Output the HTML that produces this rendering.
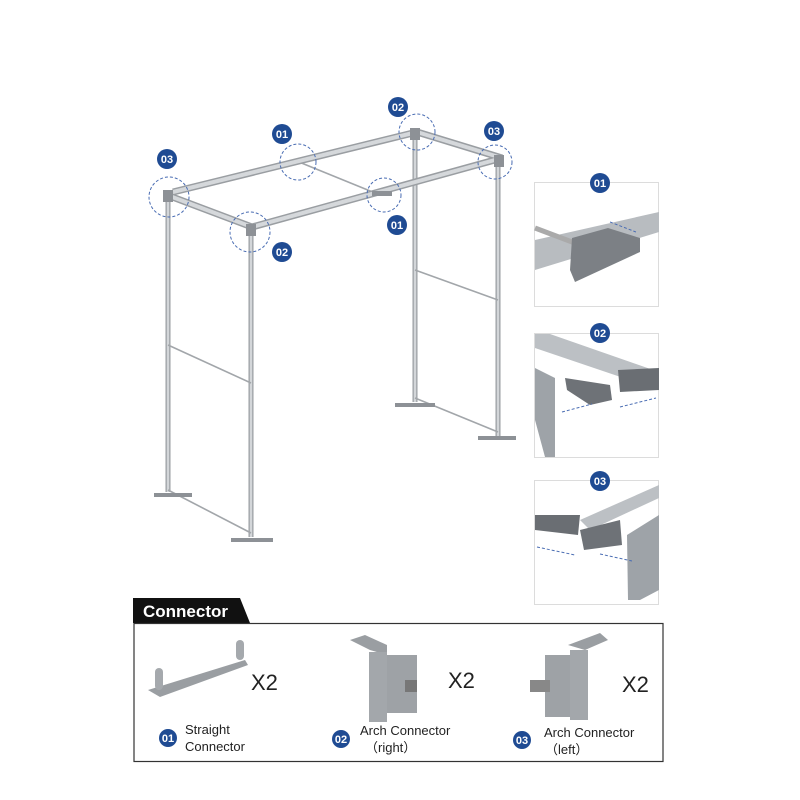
<!DOCTYPE html>
<html><head><meta charset="utf-8"><style>
html,body{margin:0;padding:0;background:#fff;}
svg{display:block;font-family:"Liberation Sans","Noto Sans CJK SC",sans-serif;}
</style></head><body>
<svg width="800" height="800" viewBox="0 0 800 800" xmlns="http://www.w3.org/2000/svg">
<g stroke-linecap="butt">
 <g stroke="#9a9ea2">
 <line x1="415" y1="134" x2="415" y2="402" stroke-width="5"/>
 <line x1="498" y1="162" x2="498" y2="436" stroke-width="5"/>
 <line x1="168" y1="195" x2="168" y2="492" stroke-width="5"/>
 <line x1="251" y1="228" x2="251" y2="537" stroke-width="5"/>
 </g>
 <g stroke="#d3d6d9">
 <line x1="415" y1="134" x2="415" y2="402" stroke-width="2.5"/>
 <line x1="498" y1="162" x2="498" y2="436" stroke-width="2.5"/>
 <line x1="168" y1="195" x2="168" y2="492" stroke-width="2.5"/>
 <line x1="251" y1="228" x2="251" y2="537" stroke-width="2.5"/>
 </g>
 <g stroke="#a2a6aa" stroke-width="1.6">
 <line x1="415" y1="270" x2="498" y2="300"/>
 <line x1="168" y1="345" x2="251" y2="383"/>
 <line x1="299" y1="162" x2="380" y2="195"/>
 <line x1="168" y1="490" x2="251" y2="533"/>
 <line x1="415" y1="398" x2="498" y2="432"/>
 </g>
 <g stroke="#9a9ea2" stroke-width="7">
 <line x1="417" y1="132" x2="502" y2="158"/>
 <line x1="173" y1="192" x2="417" y2="132"/>
 <line x1="252" y1="227" x2="502" y2="158"/>
 <line x1="167" y1="195" x2="252" y2="227"/>
 </g>
 <g stroke="#d5d8db" stroke-width="4">
 <line x1="417" y1="132" x2="502" y2="158"/>
 <line x1="173" y1="192" x2="417" y2="132"/>
 <line x1="252" y1="227" x2="502" y2="158"/>
 <line x1="167" y1="195" x2="252" y2="227"/>
 </g>
</g>
<g fill="#8d9196">
 <rect x="154" y="493" width="38" height="4"/>
 <rect x="231" y="538" width="42" height="4"/>
 <rect x="395" y="403" width="40" height="4"/>
 <rect x="478" y="436" width="38" height="4"/>
 <rect x="372" y="191" width="20" height="5"/>
 <rect x="163" y="190" width="10" height="12"/>
 <rect x="246" y="224" width="10" height="12"/>
 <rect x="410" y="128" width="10" height="12"/>
 <rect x="494" y="155" width="10" height="12"/>
</g>
<g fill="none" stroke="#4a6db3" stroke-width="1" stroke-dasharray="3,2">
 <circle cx="169" cy="197" r="20"/><circle cx="250" cy="232" r="20"/>
 <circle cx="298" cy="162" r="18"/><circle cx="384" cy="195" r="17"/>
 <circle cx="417" cy="132" r="18"/><circle cx="495" cy="162" r="17"/>
</g>
<g font-size="11" fill="#fff" text-anchor="middle" font-weight="bold">
 <circle cx="167" cy="159" r="10" fill="#1f4b93"/><text x="167" y="163">03</text>
 <circle cx="282" cy="134" r="10" fill="#1f4b93"/><text x="282" y="138">01</text>
 <circle cx="398" cy="107" r="10" fill="#1f4b93"/><text x="398" y="111">02</text>
 <circle cx="494" cy="131" r="10" fill="#1f4b93"/><text x="494" y="135">03</text>
 <circle cx="397" cy="225" r="10" fill="#1f4b93"/><text x="397" y="229">01</text>
 <circle cx="282" cy="252" r="10" fill="#1f4b93"/><text x="282" y="256">02</text>
</g>
<g fill="#fff" stroke="#dcdcdc">
 <rect x="534.5" y="182.5" width="124" height="124"/>
 <rect x="534.5" y="333.5" width="124" height="124"/>
 <rect x="534.5" y="480.5" width="124" height="124"/>
</g>
<polygon points="535,240 659,212 659,232 535,270" fill="#b8bcc0"/>
<line x1="535" y1="228" x2="580" y2="245" stroke="#aaa" stroke-width="5"/>
<polygon points="572,238 608,228 640,238 640,252 575,282 570,270" fill="#7c8085"/>
<line x1="610" y1="222" x2="636" y2="232" stroke="#4a6db3" stroke-dasharray="3,2"/>
<polygon points="535,334 550,334 659,372 659,390 535,348" fill="#bcc0c4"/>
<polygon points="535,368 555,378 555,457 545,457 535,420" fill="#9ea3a8"/>
<polygon points="565,378 610,385 612,400 590,405 567,390" fill="#6e7277"/>
<polygon points="618,370 659,368 659,390 620,392" fill="#6a6e73"/>
<line x1="562" y1="412" x2="592" y2="404" stroke="#4a6db3" stroke-dasharray="3,2"/>
<line x1="620" y1="407" x2="656" y2="398" stroke="#4a6db3" stroke-dasharray="3,2"/>
<polygon points="580,520 659,485 659,498 590,530" fill="#bcc0c4"/>
<polygon points="535,515 580,515 578,535 535,530" fill="#6a6e73"/>
<polygon points="580,530 620,520 622,545 584,550" fill="#6e7277"/>
<polygon points="627,535 659,515 659,590 640,600 628,600" fill="#9ea3a8"/>
<line x1="537" y1="547" x2="575" y2="555" stroke="#4a6db3" stroke-dasharray="3,2"/>
<line x1="600" y1="554" x2="632" y2="561" stroke="#4a6db3" stroke-dasharray="3,2"/>
<g font-size="11" fill="#fff" text-anchor="middle" font-weight="bold">
 <circle cx="600" cy="183" r="10" fill="#1f4b93"/><text x="600" y="187">01</text>
 <circle cx="600" cy="333" r="10" fill="#1f4b93"/><text x="600" y="337">02</text>
 <circle cx="600" cy="481" r="10" fill="#1f4b93"/><text x="600" y="485">03</text>
</g>
<polygon points="133,598 240,598 250,623 133,623" fill="#111"/>
<text x="143" y="617" font-size="17" font-weight="bold" fill="#fff">Connector</text>
<rect x="134" y="623.5" width="529" height="138" fill="none" stroke="#333" stroke-width="1.2"/>
<polygon points="148,690 245,660 248,665 160,697" fill="#9a9ea2"/>
<rect x="155" y="668" width="8" height="22" rx="4" fill="#a5a9ad"/>
<rect x="236" y="640" width="8" height="20" rx="4" fill="#a5a9ad"/>
<text x="251" y="690" font-size="22" fill="#222">X2</text>
<polygon points="350,640 365,635 387,645 387,655 370,650" fill="#9a9ea2"/>
<rect x="369" y="652" width="18" height="70" fill="#a3a7ab"/>
<rect x="387" y="655" width="30" height="58" fill="#9ea2a6"/>
<rect x="405" y="680" width="12" height="12" fill="#777"/>
<text x="448" y="688" font-size="22" fill="#222">X2</text>
<polygon points="568,645 600,633 608,640 585,650" fill="#9a9ea2"/>
<rect x="545" y="655" width="25" height="62" fill="#9ea2a6"/>
<rect x="570" y="650" width="18" height="70" fill="#a3a7ab"/>
<rect x="530" y="680" width="20" height="12" fill="#888"/>
<text x="622" y="692" font-size="22" fill="#222">X2</text>
<g font-size="11" fill="#fff" text-anchor="middle" font-weight="bold">
 <circle cx="168" cy="738" r="9" fill="#1f4b93"/><text x="168" y="742">01</text>
 <circle cx="341" cy="739" r="9" fill="#1f4b93"/><text x="341" y="743">02</text>
 <circle cx="522" cy="740" r="9" fill="#1f4b93"/><text x="522" y="744">03</text>
</g>
<g font-size="13" fill="#222">
 <text x="185" y="734">Straight</text>
 <text x="185" y="751">Connector</text>
 <text x="360" y="735">Arch Connector</text>
 <text x="365" y="752">（right）</text>
 <text x="544" y="737">Arch Connector</text>
 <text x="545" y="754">（left）</text>
</g>
</svg>
</body></html>
